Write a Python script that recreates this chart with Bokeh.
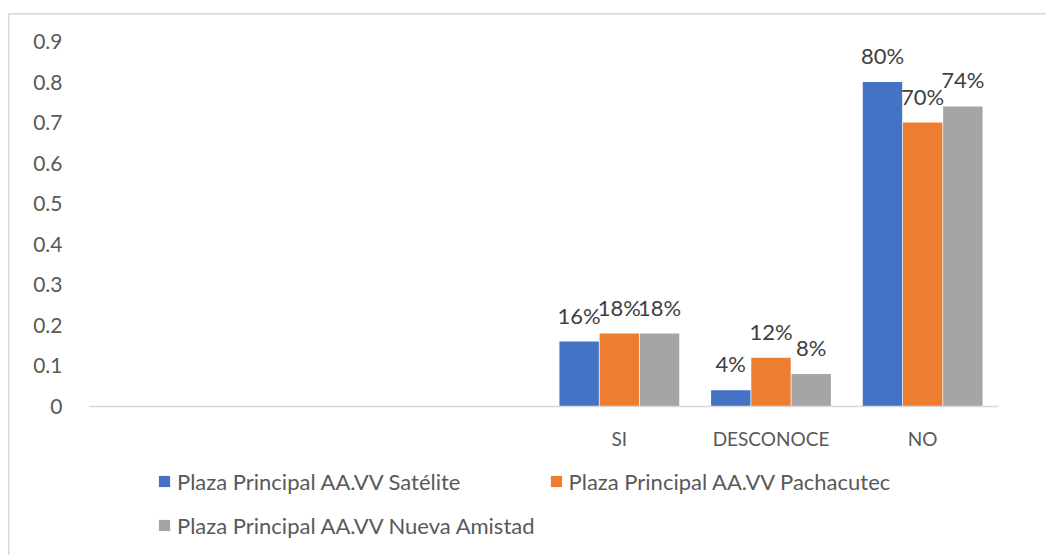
from bokeh.plotting import figure
from bokeh.models import (ColumnDataSource, FactorRange, Range1d, FixedTicker, LabelSet,
                          Legend, LegendItem)
from bokeh.core.properties import value
from bokeh.transform import dodge
from bokeh.embed import file_html
from bokeh.resources import INLINE

categories = [" ", "  ", "   ", "SI", "DESCONOCE", "NO"]
satelite = [None, None, None, 0.16, 0.04, 0.80]
pachacutec = [None, None, None, 0.18, 0.12, 0.70]
nueva_amistad = [None, None, None, 0.18, 0.08, 0.74]
series_names = ["Plaza Principal AA.VV Satélite",
                "Plaza Principal AA.VV Pachacutec",
                "Plaza Principal AA.VV Nueva Amistad"]
colors = ["#4472C4", "#ED7D31", "#A5A5A5"]
y_ticks = [0, 0.1, 0.2, 0.3, 0.4, 0.5, 0.6, 0.7, 0.8, 0.9]

FONT = "Lato"
GRID = "#D9D9D9"

# layout geometry (pixels): frame from y=41 (0.9) to the canvas bottom, value 0 at y=406
TOP_PX, ZERO_PX, BOTTOM_PX = 41, 406, 555
px_per_unit = (ZERO_PX - TOP_PX) / 0.9
y_min = -(BOTTOM_PX - ZERO_PX) / px_per_unit

# chart-area border drawn as a background (no effect on layout)
bg = (f"linear-gradient({GRID},{GRID}) 8px 13px / 100% 1.5px no-repeat, "
      f"linear-gradient({GRID},{GRID}) 8px 13px / 1.5px 100% no-repeat, white")

p = figure(x_range=FactorRange(factors=categories, range_padding=0),
           y_range=Range1d(y_min, 0.9),
           width=1046, height=555, output_backend="svg", toolbar_location=None,
           min_border_left=88, min_border_right=48, min_border_top=TOP_PX, min_border_bottom=0,
           styles={"background": bg})
p.border_fill_color = None
p.background_fill_color = None
p.outline_line_color = None
p.xgrid.grid_line_color = None
p.ygrid.grid_line_color = None

all_series = [satelite, pachacutec, nueva_amistad]
offsets = [-0.265, 0.0, 0.265]
renderers = []
for i, vals in enumerate(all_series):
    xs, ys, labs = [], [], []
    for c, v in zip(categories, vals):
        if v is not None:
            xs.append(c)
            ys.append(v)
            labs.append(f"{round(v * 100)}%")
    src = ColumnDataSource(dict(cat=xs, val=ys, lab=labs))
    r = p.vbar(x=dodge("cat", offsets[i], range=p.x_range), top="val", bottom=0, width=0.26,
               source=src, fill_color=colors[i], line_color=None)
    renderers.append(r)
    ls = LabelSet(x=dodge("cat", offsets[i], range=p.x_range), y="val", text="lab",
                  source=src, text_align="center", text_baseline="alphabetic",
                  y_offset=18, text_font=value(FONT), text_font_size="22px",
                  text_color="#404040")
    p.add_layout(ls)

# axes
p.yaxis.ticker = FixedTicker(ticks=y_ticks)
p.yaxis.major_label_overrides = {t: ("0" if t == 0 else f"{t:.1f}") for t in y_ticks}
p.yaxis.axis_line_color = None
p.yaxis.major_tick_line_color = None
p.yaxis.minor_tick_line_color = None
p.yaxis.major_tick_out = 0
p.yaxis.major_label_standoff = 26
p.yaxis.major_label_text_font = FONT
p.yaxis.major_label_text_font_size = "21px"
p.yaxis.major_label_text_color = "#595959"

p.xaxis.fixed_location = 0
p.xaxis.axis_line_color = GRID
p.xaxis.axis_line_width = 1.5
p.xaxis.major_tick_line_color = None
p.xaxis.minor_tick_line_color = None
p.xaxis.major_tick_out = 0
p.xaxis.major_label_standoff = 20
p.xaxis.major_label_text_font = FONT
p.xaxis.major_label_text_font_size = "19px"
p.xaxis.major_label_text_color = "#595959"

# legend
legend = Legend(items=[LegendItem(label=n, renderers=[r]) for n, r in zip(series_names, renderers)],
                location=(69, 15), orientation="horizontal", ncols=2,
                border_line_color=None, background_fill_alpha=0,
                padding=0, margin=0, spacing=14,
                glyph_width=14, glyph_height=14, label_standoff=6,
                label_text_font=FONT, label_text_font_size="22px",
                label_text_color="#595959", label_height=30)
p.add_layout(legend)

open("out.html", "w").write(file_html(p, INLINE))
